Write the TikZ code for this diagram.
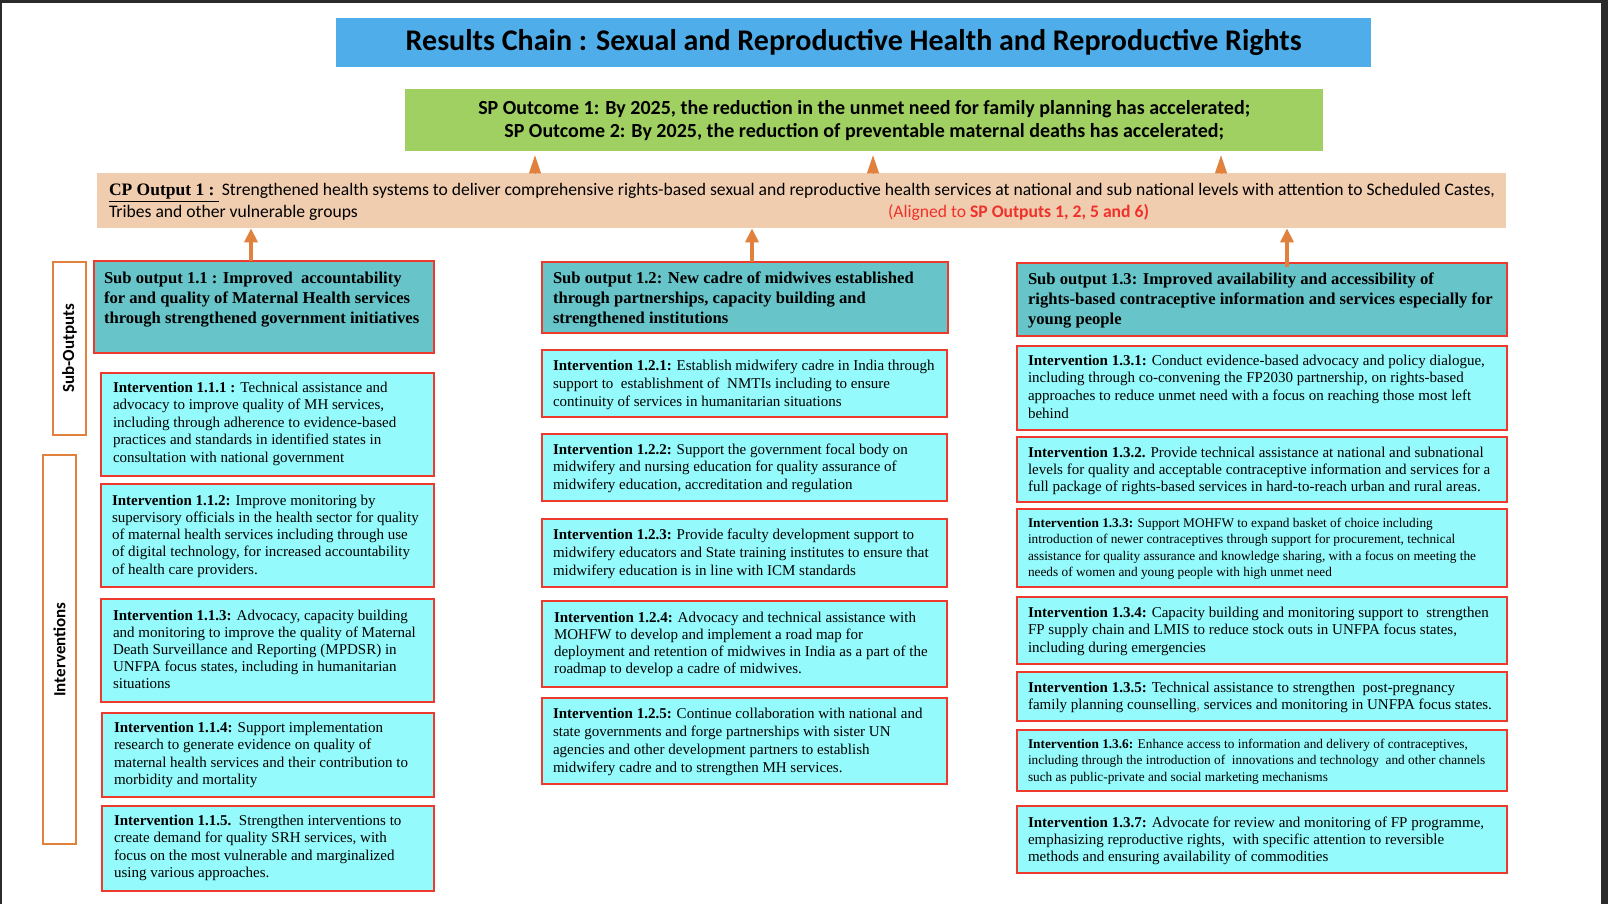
\documentclass[tikz,border=0pt]{standalone}
\usepackage{fontspec}
\setmainfont{Liberation Serif}
\newfontfamily\calfont{Carlito}
\usetikzlibrary{arrows.meta}

\definecolor{titleblue}{HTML}{4FAEEA}
\definecolor{outgreen}{HTML}{A0D062}
\definecolor{cppeach}{HTML}{F1CDB0}
\definecolor{subteal}{HTML}{67C5CA}
\definecolor{intcyan}{HTML}{95FAFB}
\definecolor{redline}{HTML}{EE3A2C}
\definecolor{arroworange}{HTML}{E0823E}
\definecolor{alignred}{HTML}{F0302A}
\definecolor{framedark}{HTML}{2B2B2B}

% paragraph set on its first baseline
\newcommand\para[4]{\parbox[t]{#1}{\raggedright\fontsize{#2}{#3}\selectfont #4}}

\tikzset{
  panel/.style={draw=redline, line width=1.2pt, inner sep=0pt, outer sep=0pt, anchor=north west},
  subout/.style={panel, fill=subteal},
  interv/.style={panel, fill=intcyan},
  sidebox/.style={draw=arroworange, line width=1.6pt, fill=white, inner sep=0pt, outer sep=0pt, anchor=north west},
  sidetext/.style={rotate=90, font=\calfont\bfseries\fontsize{17}{20}\selectfont},
  body/.style={anchor=base west, inner sep=0pt, outer sep=0pt},
  tri/.style={draw=arroworange, line width=1pt, -{Triangle[width=12pt,length=18pt]}, shorten >=4pt},
  uparrow/.style={draw=arroworange, line width=3.5pt, -{Triangle[width=13pt,length=14pt]}}
}

\begin{document}
\begin{tikzpicture}[x=1pt,y=-1pt]
% page and dark frame
\fill[framedark] (0,0) rectangle (1608,904);
\fill[white] (1.5,3.5) rectangle (1601,904);
\useasboundingbox (0,0) rectangle (1608,904);

% title and outcomes
\node[anchor=north west, fill=titleblue, minimum width=1035, minimum height=49, inner sep=0pt,
      font=\calfont\bfseries\fontsize{30}{34}\selectfont] (title) at (336,18)
  {Results Chain : Sexual and Reproductive Health and Reproductive Rights};
\node[anchor=north west, fill=outgreen, minimum width=918, minimum height=62, inner sep=0pt, align=center,
      font=\calfont\bfseries\fontsize{20}{23}\selectfont] (outcome) at (405,89)
  {SP Outcome 1: By 2025, the reduction in the unmet need for family planning has accelerated;\\
   SP Outcome 2: By 2025, the reduction of preventable maternal deaths has accelerated;};

% country programme output
\node[anchor=north west, fill=cppeach, minimum width=1409, minimum height=55, inner sep=0pt] (cp) at (97,173) {};
\node[body] (cptext) at (109,196)
  {\fontsize{17.5}{20}\selectfont\textbf{\underline{CP Output 1 :\ }}\hspace{3pt}\calfont\fontsize{17.6}{20}\selectfont Strengthened health systems to deliver comprehensive rights-based sexual and reproductive health services at national and sub national levels with attention to Scheduled Castes,};
\node[body, font=\calfont\fontsize{17.6}{20}\selectfont] (cptext2) at (109,218) {Tribes and other vulnerable groups};
\node[body, font=\calfont\fontsize{17.6}{20}\selectfont, text=alignred] (cpalign) at (888,218) {(Aligned to \textbf{SP Outputs 1, 2, 5 and 6)}};

% side labels
\node[sidebox, minimum width=33, minimum height=173] (solabel) at (53,262) {};
\node[sidetext] at (solabel.center) {Sub-Outputs};
\node[sidebox, minimum width=33, minimum height=389] (intlabel) at (43,455) {};
\node[sidetext] at (intlabel.center) {Interventions};

% sub-outputs
\node[subout, minimum width=340, minimum height=92] (sub11) at (94,261) {};
\node[body] at (104,283) {\para{340pt}{16.6}{20}{\bfseries Sub output 1.1 : Improved\ \ accountability\\for and quality of Maternal Health services\\through strengthened government initiatives}};
\node[subout, minimum width=406, minimum height=71] (sub12) at (542,262) {};
\node[body] at (553,283) {\para{400pt}{16.6}{20}{\bfseries Sub output 1.2: New cadre of midwives established\\through partnerships, capacity building and\\strengthened institutions}};
\node[subout, minimum width=490, minimum height=73] (sub13) at (1017,263) {};
\node[body] at (1028,284) {\para{480pt}{16.6}{20}{\bfseries Sub output 1.3: Improved availability and accessibility of\\rights-based contraceptive information and services especially for\\young people}};

% interventions, first column
\node[interv, minimum width=333, minimum height=103] (i111) at (101,373) {};
\node[body] at (113,392) {\para{330pt}{15}{17.5}{\textbf{Intervention 1.1.1 :} Technical assistance and\\advocacy to improve quality of MH services,\\including through adherence to evidence-based\\practices and standards in identified states in\\consultation with national government}};
\node[interv, minimum width=333, minimum height=103] (i112) at (101,484) {};
\node[body] at (112,505) {\para{330pt}{15}{17.3}{\textbf{Intervention 1.1.2:} Improve monitoring by\\supervisory officials in the health sector for quality\\of maternal health services including through use\\of digital technology, for increased accountability\\of health care providers.}};
\node[interv, minimum width=333, minimum height=103] (i113) at (101,599) {};
\node[body] at (113,620) {\para{330pt}{15}{17.2}{\textbf{Intervention 1.1.3:} Advocacy, capacity building\\and monitoring to improve the quality of Maternal\\Death Surveillance and Reporting (MPDSR) in\\UNFPA focus states, including in humanitarian\\situations}};
\node[interv, minimum width=332, minimum height=84] (i114) at (102,713) {};
\node[body] at (114,732) {\para{330pt}{15}{17.6}{\textbf{Intervention 1.1.4:} Support implementation\\research to generate evidence on quality of\\maternal health services and their contribution to\\morbidity and mortality}};
\node[interv, minimum width=332, minimum height=85] (i115) at (102,806) {};
\node[body] at (114,825) {\para{330pt}{15}{17.6}{\textbf{Intervention 1.1.5.}\ \ Strengthen interventions to\\create demand for quality SRH services, with\\focus on the most vulnerable and marginalized\\using various approaches.}};

% interventions, second column
\node[interv, minimum width=405, minimum height=67] (i121) at (542,350) {};
\node[body] at (553,370) {\para{400pt}{15}{18}{\textbf{Intervention 1.2.1:} Establish midwifery cadre in India through\\support to\ \ establishment of\ \ NMTIs including to ensure\\continuity of services in humanitarian situations}};
\node[interv, minimum width=405, minimum height=67] (i122) at (542,434) {};
\node[body] at (553,454) {\para{400pt}{15}{17.5}{\textbf{Intervention 1.2.2:} Support the government focal body on\\midwifery and nursing education for quality assurance of\\midwifery education, accreditation and regulation}};
\node[interv, minimum width=405, minimum height=68] (i123) at (542,519) {};
\node[body] at (553,539) {\para{400pt}{15}{18}{\textbf{Intervention 1.2.3:} Provide faculty development support to\\midwifery educators and State training institutes to ensure that\\midwifery education is in line with ICM standards}};
\node[interv, minimum width=405, minimum height=86] (i124) at (542,601) {};
\node[body] at (554,622) {\para{400pt}{15}{17.3}{\textbf{Intervention 1.2.4:} Advocacy and technical assistance with\\MOHFW to develop and implement a road map for\\deployment and retention of midwives in India as a part of the\\roadmap to develop a cadre of midwives.}};
\node[interv, minimum width=405, minimum height=86] (i125) at (542,698) {};
\node[body] at (553,718) {\para{400pt}{15}{18}{\textbf{Intervention 1.2.5:} Continue collaboration with national and\\state governments and forge partnerships with sister UN\\agencies and other development partners to establish\\midwifery cadre and to strengthen MH services.}};

% interventions, third column
\node[interv, minimum width=490, minimum height=84] (i131) at (1017,346) {};
\node[body] at (1028,365) {\para{480pt}{15}{17.7}{\textbf{Intervention 1.3.1:} Conduct evidence-based advocacy and policy dialogue,\\including through co-convening the FP2030 partnership, on rights-based\\approaches to reduce unmet need with a focus on reaching those most left\\behind}};
\node[interv, minimum width=490, minimum height=65] (i132) at (1017,437) {};
\node[body] at (1028,457) {\para{480pt}{15}{17}{\textbf{Intervention 1.3.2.} Provide technical assistance at national and subnational\\levels for quality and acceptable contraceptive information and services for a\\full package of rights-based services in hard-to-reach urban and rural areas.}};
\node[interv, minimum width=490, minimum height=78] (i133) at (1017,509) {};
\node[body] at (1028,527) {\para{480pt}{13.3}{16.6}{\textbf{Intervention 1.3.3:} Support MOHFW to expand basket of choice including\\introduction of newer contraceptives through support for procurement, technical\\assistance for quality assurance and knowledge sharing, with a focus on meeting the\\needs of women and young people with high unmet need}};
\node[interv, minimum width=490, minimum height=67] (i134) at (1017,597) {};
\node[body] at (1028,617) {\para{480pt}{15}{17.5}{\textbf{Intervention 1.3.4:} Capacity building and monitoring support to\ \ strengthen\\FP supply chain and LMIS to reduce stock outs in UNFPA focus states,\\including during emergencies}};
\node[interv, minimum width=490, minimum height=49] (i135) at (1017,672) {};
\node[body] at (1028,692) {\para{480pt}{15}{17}{\textbf{Intervention 1.3.5:} Technical assistance to strengthen\ \ post-pregnancy\\family planning counselling{\color{redline},} services and monitoring in UNFPA focus states.}};
\node[interv, minimum width=490, minimum height=61] (i136) at (1017,730) {};
\node[body] at (1028,748) {\para{480pt}{13.3}{16.5}{\textbf{Intervention 1.3.6:} Enhance access to information and delivery of contraceptives,\\including through the introduction of\ \ innovations and technology\ \ and other channels\\such as public-private and social marketing mechanisms}};
\node[interv, minimum width=490, minimum height=67] (i137) at (1017,806) {};
\node[body] at (1028,827) {\para{480pt}{15}{17}{\textbf{Intervention 1.3.7:} Advocate for review and monitoring of FP programme,\\emphasizing reproductive rights,\ \ with specific attention to reversible\\methods and ensuring availability of commodities}};

% links from the CP output to the outcomes
\draw[tri] (cp.north -| 535,0) -- (outcome.south -| 535,0);
\draw[tri] (cp.north -| 873,0) -- (outcome.south -| 873,0);
\draw[tri] (cp.north -| 1221,0) -- (outcome.south -| 1221,0);

% links from the sub-outputs to the CP output
\coordinate (s13top) at ([yshift=-4pt]sub13.north);
\draw[uparrow] (sub11.north -| 251,0) -- (cp.south -| 251,0);
\draw[uparrow] (sub12.north -| 752,0) -- (cp.south -| 752,0);
\draw[uparrow] (s13top -| 1287,0) -- (cp.south -| 1287,0);
\end{tikzpicture}
\end{document}
